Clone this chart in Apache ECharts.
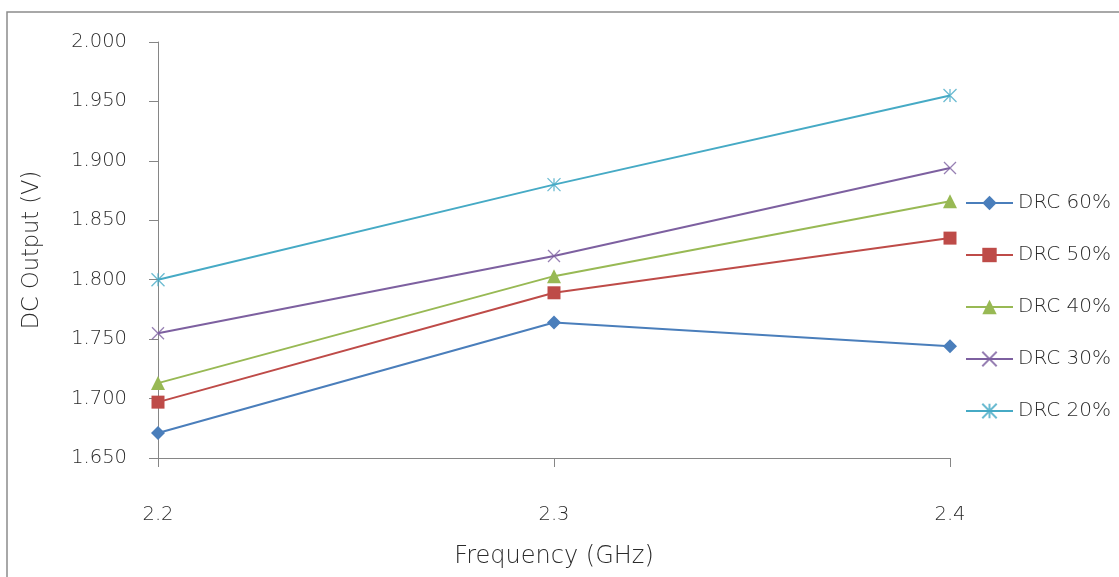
<!DOCTYPE html>
<html>
<head>
<meta charset="utf-8">
<script src="https://cdn.jsdelivr.net/npm/echarts@6/dist/echarts.min.js"></script>
<style>
  html, body { margin: 0; padding: 0; background: #fff; }
  #chart { width: 1119px; height: 577px; }
</style>
</head>
<body>
<div id="chart"></div>
<script>
// x categories (GHz)
const frequencies = ['2.2', '2.3', '2.4']
// DC output (V) per duty ratio
const drc60 = [1.671, 1.764, 1.744]
const drc50 = [1.697, 1.789, 1.835]
const drc40 = [1.713, 1.803, 1.866]
const drc30 = [1.755, 1.820, 1.894]
const drc20 = [1.800, 1.880, 1.955]
const seriesNames = ['DRC 60%', 'DRC 50%', 'DRC 40%', 'DRC 30%', 'DRC 20%']

const colors = ['#4A7EBB', '#BE4B48', '#98B954', '#7D60A0', '#46AAC5']
const crossPath = 'path://M0,0L10,10M10,0L0,10'
const starPath = 'path://M0,0L10,10M10,0L0,10M5,0L5,10'
const textColor = '#2b2b2b'
const fontName = 'DejaVu Sans'

const myChart = echarts.init(document.getElementById('chart'))

// 折线系列
const makeSeries = (name, data, color, symbol, size, stroke) => ({
  name: name,
  type: 'line',
  data: data,
  symbol: symbol,
  symbolSize: size,
  lineStyle: { color: color, width: 2 },
  itemStyle: stroke
    ? { color: 'rgba(0,0,0,0)', borderColor: color, borderWidth: 1.3, opacity: 0.8 }
    : { color: color },
  emphasis: { disabled: true },
})

const option = {
  animation: false,
  textStyle: { fontFamily: fontName, fontWeight: 300 },
  graphic: [
    {
      type: 'rect',
      shape: { x: 7, y: 12, width: 1200, height: 700 },
      style: { fill: 'none', stroke: '#8c8c8c', lineWidth: 1.5 },
      silent: true,
    },
  ],
  grid: { left: 158, right: 169, top: 42, bottom: 119 },
  legend: {
    orient: 'vertical',
    left: 960,
    top: 188,
    itemWidth: 47,
    itemHeight: 18,
    itemGap: 32,
    textStyle: { fontSize: 20, color: textColor, fontFamily: fontName, fontWeight: 300 },
    data: seriesNames,
  },
  xAxis: {
    type: 'category',
    data: frequencies,
    boundaryGap: false,
    name: 'Frequency (GHz)',
    nameLocation: 'middle',
    nameGap: 87,
    nameTextStyle: { fontSize: 24, color: textColor, fontFamily: fontName, fontWeight: 300 },
    axisLine: { lineStyle: { color: '#868686', width: 1 } },
    axisTick: { alignWithLabel: true, length: 9, lineStyle: { color: '#868686' } },
    axisLabel: { margin: 47, fontSize: 19.5, color: textColor, fontFamily: fontName, fontWeight: 300 },
    splitLine: { show: false },
  },
  yAxis: {
    type: 'value',
    min: 1.65,
    max: 2.0,
    interval: 0.05,
    name: 'DC Output (V)',
    nameLocation: 'middle',
    nameGap: 114,
    nameTextStyle: { fontSize: 22.5, color: textColor, fontFamily: fontName, fontWeight: 300 },
    axisLine: { show: true, lineStyle: { color: '#868686', width: 1 } },
    axisTick: { show: true, length: 9, lineStyle: { color: '#868686' } },
    axisLabel: {
      margin: 31,
      fontSize: 19.5,
      color: textColor,
      fontFamily: fontName,
      fontWeight: 300,
      formatter: (v) => v.toFixed(3),
    },
    splitLine: { show: false },
  },
  series: [
    makeSeries(seriesNames[0], drc60, colors[0], 'diamond', 14, false),
    makeSeries(seriesNames[1], drc50, colors[1], 'rect', 13, false),
    makeSeries(seriesNames[2], drc40, colors[2], 'triangle', 14, false),
    makeSeries(seriesNames[3], drc30, colors[3], crossPath, 12, true),
    makeSeries(seriesNames[4], drc20, colors[4], starPath, 13, true),
  ],
}

option && myChart.setOption(option)
</script>
</body>
</html>
